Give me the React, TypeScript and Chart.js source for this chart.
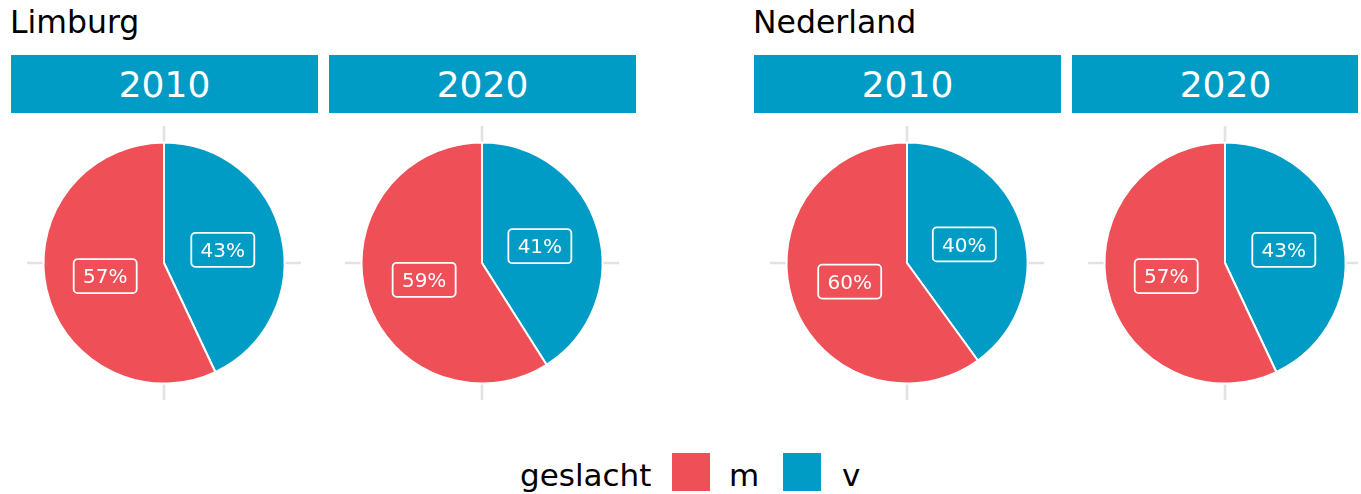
import React, { useEffect, useRef } from "react";
import { Chart, registerables } from "chart.js";

Chart.register(...registerables);

const regions = ["Limburg", "Nederland"];
const years = ["2010", "2020"];
const genders = ["m", "v"];
// share of v (vrouw) and m (man) per panel, in percent
const limburgV = [43, 41];
const limburgM = [57, 59];
const nederlandV = [40, 43];
const nederlandM = [60, 57];

const RED = "#EF4F57";
const BLUE = "#009CC5";
const FONT = "'DejaVu Sans', 'Liberation Sans', sans-serif";

const gridPlugin = {
  id: "crossGrid",
  beforeDatasetsDraw(chart: any) {
    const { ctx, width, height } = chart;
    const arc = chart.getDatasetMeta(0).data[0];
    if (!arc) return;
    const cx = arc.x;
    const cy = arc.y;
    ctx.save();
    ctx.strokeStyle = "#E2E2E2";
    ctx.lineWidth = 2.6;
    ctx.beginPath();
    ctx.moveTo(0, cy);
    ctx.lineTo(width, cy);
    ctx.moveTo(cx, 0);
    ctx.lineTo(cx, height);
    ctx.stroke();
    ctx.restore();
  },
};

const labelPlugin = {
  id: "boxLabels",
  afterDatasetsDraw(chart: any) {
    const { ctx } = chart;
    const ds = chart.data.datasets[0];
    const total = ds.data.reduce((a: number, b: number) => a + b, 0);
    const meta = chart.getDatasetMeta(0);
    ctx.save();
    meta.data.forEach((arc: any, i: number) => {
      const p = arc.tooltipPosition(false);
      const text = Math.round((ds.data[i] / total) * 100) + "%";
      const w = 63;
      const h = 34;
      const x = p.x - w / 2;
      const y = p.y - h / 2;
      const r = 4;
      ctx.beginPath();
      ctx.moveTo(x + r, y);
      ctx.lineTo(x + w - r, y);
      ctx.arcTo(x + w, y, x + w, y + r, r);
      ctx.lineTo(x + w, y + h - r);
      ctx.arcTo(x + w, y + h, x + w - r, y + h, r);
      ctx.lineTo(x + r, y + h);
      ctx.arcTo(x, y + h, x, y + h - r, r);
      ctx.lineTo(x, y + r);
      ctx.arcTo(x, y, x + r, y, r);
      ctx.closePath();
      ctx.strokeStyle = "#FFFFFF";
      ctx.lineWidth = 1.8;
      ctx.stroke();
      ctx.fillStyle = "#FFFFFF";
      ctx.font = "20px " + FONT;
      ctx.textAlign = "center";
      ctx.textBaseline = "alphabetic";
      ctx.fillText(text, p.x, p.y + 7.3);
    });
    ctx.restore();
  },
};

function Pie({ v, m, left }: { v: number; m: number; left: number }) {
  const ref = useRef<HTMLCanvasElement | null>(null);
  useEffect(() => {
    if (!ref.current) return;
    const chart = new Chart(ref.current, {
      type: "pie",
      data: {
        labels: ["v", "m"],
        datasets: [
          {
            data: [v, m],
            backgroundColor: [BLUE, RED],
            borderColor: "#FFFFFF",
            borderWidth: 2,
          },
        ],
      },
      options: {
        responsive: false,
        animation: false,
        layout: { padding: 15.5 },
        plugins: {
          legend: { display: false },
          tooltip: { enabled: false },
          title: { display: false },
        },
      },
      plugins: [gridPlugin, labelPlugin],
    });
    return () => chart.destroy();
  }, [v, m]);
  return (
    <canvas
      ref={ref}
      width={274}
      height={274}
      style={{ position: "absolute", left, top: 126, width: 274, height: 274 }}
    />
  );
}

const stripStyle = (left: number): React.CSSProperties => ({
  position: "absolute",
  left,
  top: 55,
  width: 307,
  height: 58,
  background: BLUE,
  color: "#FFFFFF",
  font: "36px " + FONT,
  lineHeight: "60px",
  textAlign: "center",
});

const titleStyle = (left: number): React.CSSProperties => ({
  position: "absolute",
  left,
  top: 7,
  font: "31.5px " + FONT,
  lineHeight: "31.5px",
  color: "#000000",
  whiteSpace: "nowrap",
});

const legendText = (left: number): React.CSSProperties => ({
  position: "absolute",
  left,
  top: 460,
  font: "31px " + FONT,
  lineHeight: "31px",
  color: "#000000",
  whiteSpace: "nowrap",
});

const keyStyle = (left: number, color: string): React.CSSProperties => ({
  position: "absolute",
  left,
  top: 453,
  width: 38,
  height: 38,
  background: color,
});

export default function App() {
  const groups = [
    { name: regions[0], v: limburgV, m: limburgM, left: 11 },
    { name: regions[1], v: nederlandV, m: nederlandM, left: 754 },
  ];
  return (
    <div
      style={{
        position: "absolute",
        left: 0,
        top: 0,
        width: 1358,
        height: 494,
        overflow: "hidden",
        background: "#FFFFFF",
      }}
    >
      {groups.map((g) => (
        <React.Fragment key={g.name}>
          <div style={titleStyle(g.left - 1)}>{g.name}</div>
          {years.map((yr, i) => {
            const stripLeft = g.left + i * 318;
            return (
              <React.Fragment key={yr}>
                <div style={stripStyle(stripLeft)}>{yr}</div>
                <Pie v={g.v[i]} m={g.m[i]} left={stripLeft + 153 - 137} />
              </React.Fragment>
            );
          })}
        </React.Fragment>
      ))}
      <div style={legendText(520)}>geslacht</div>
      <div style={keyStyle(672, RED)} />
      <div style={legendText(729)}>{genders[0]}</div>
      <div style={keyStyle(783, BLUE)} />
      <div style={legendText(842)}>{genders[1]}</div>
    </div>
  );
}
